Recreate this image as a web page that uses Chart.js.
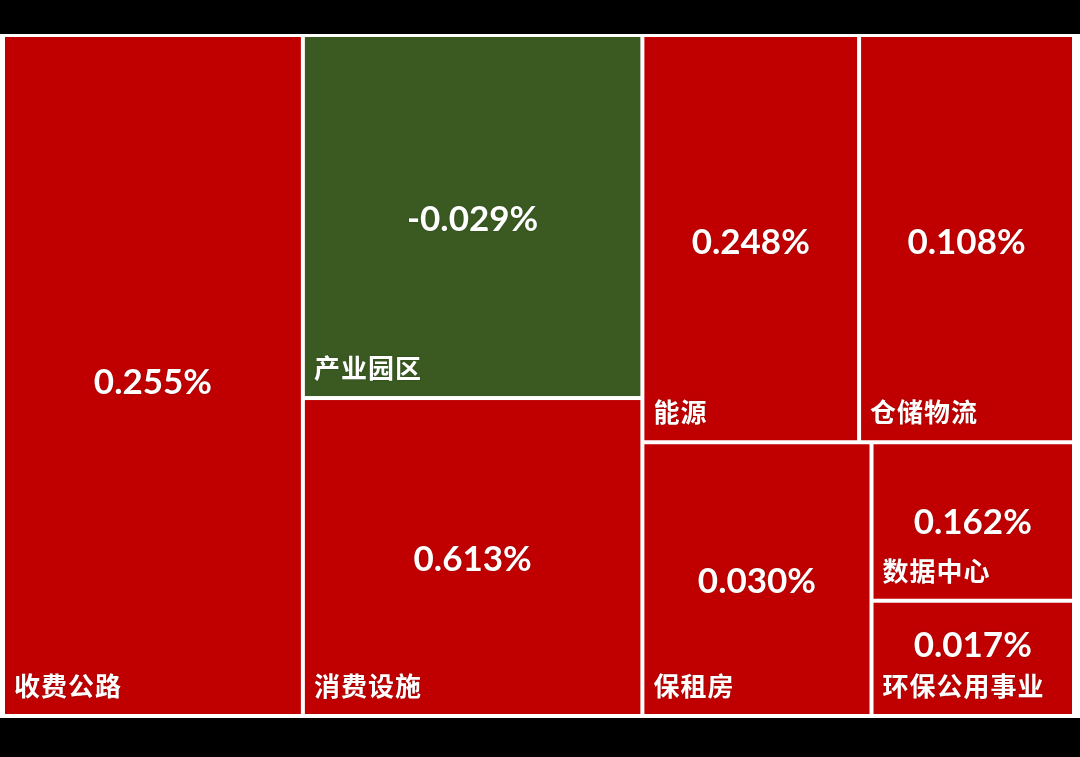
<!DOCTYPE html>
<html lang="zh-CN">
<head>
<meta charset="UTF-8">
<title>REITs 板块涨跌幅</title>
<style>
    html, body {
        margin: 0;
        padding: 0;
        background: #000;
    }
    #wrap {
        width: 1080px;
        height: 757px;
    }
</style>
</head>
<body>
<div id="wrap"><canvas id="treeChart" width="1080" height="757"></canvas></div>

<script src="https://cdn.jsdelivr.net/npm/chart.js"></script>
<script>
    // sector names, daily change (%) and size weight (share of total, %)
    const sectors = ['收费公路', '产业园区', '消费设施', '能源', '仓储物流', '保租房', '数据中心', '环保公用事业'];
    const changes = [0.255, -0.029, 0.613, 0.248, 0.108, 0.030, 0.162, 0.017];
    const weights = [28.0, 16.9, 14.8, 12.1, 12.0, 8.6, 4.4, 3.2];
    // sectors that share one strip, in layout order
    const strips = [[0], [1, 2], [3, 4], [5], [6], [7]];

    const UP = '#c00000';
    const DOWN = '#3a5a22';

    // strip layout: each strip goes along the shorter side of what is left
    function layoutStrips(x, y, w, h) {
        let remaining = weights.reduce((a, b) => a + b, 0);
        const cells = [];
        strips.forEach(group => {
            const sum = group.reduce((s, i) => s + weights[i], 0);
            const frac = sum / remaining;
            if (w >= h) {
                const sw = w * frac;
                let cy = y;
                group.forEach(i => {
                    const ch = h * weights[i] / sum;
                    cells.push({ i, x, y: cy, w: sw, h: ch });
                    cy += ch;
                });
                x += sw; w -= sw;
            } else {
                const sh = h * frac;
                let cx = x;
                group.forEach(i => {
                    const cw = w * weights[i] / sum;
                    cells.push({ i, x: cx, y, w: cw, h: sh });
                    cx += cw;
                });
                y += sh; h -= sh;
            }
            remaining -= sum;
        });
        return cells;
    }

    const treemapPlugin = {
        id: 'treemapStrips',
        beforeDraw(chart) {
            const ctx = chart.ctx;
            const area = chart.chartArea;
            ctx.save();
            ctx.fillStyle = '#000';
            ctx.fillRect(0, 0, chart.width, chart.height);
            ctx.fillStyle = '#fff';
            ctx.fillRect(0, area.top - 1, chart.width, area.bottom - area.top + 3);
            ctx.restore();
        },
        afterDatasetsDraw(chart) {
            const ctx = chart.ctx;
            const xs = chart.scales.x;
            const ys = chart.scales.y;
            const left = xs.getPixelForValue(0);
            const right = xs.getPixelForValue(1);
            const top = ys.getPixelForValue(1);
            const bottom = ys.getPixelForValue(0);
            const inset = 2;

            ctx.save();
            layoutStrips(left, top, right - left, bottom - top).forEach(c => {
                const x0 = c.x + inset, y0 = c.y + inset;
                const w = c.w - inset * 2, h = c.h - inset * 2;
                ctx.fillStyle = changes[c.i] < 0 ? DOWN : UP;
                ctx.fillRect(x0, y0, w, h);

                ctx.fillStyle = '#fff';
                ctx.shadowColor = 'rgba(0,0,0,0.25)';
                ctx.shadowBlur = 2;

                // value label
                const cy = Math.min(y0 + h * 0.51, y0 + h - 68);
                ctx.font = 'bold 35px Lato, "Open Sans", sans-serif';
                ctx.letterSpacing = '0px';
                ctx.textAlign = 'center';
                ctx.textBaseline = 'middle';
                ctx.fillText(changes[c.i].toFixed(3) + '%', x0 + w / 2, cy);

                // sector name
                ctx.font = 'bold 26px "Noto Sans CJK SC", sans-serif';
                ctx.letterSpacing = '1px';
                ctx.textAlign = 'left';
                ctx.fillText(sectors[c.i], x0 + 9, y0 + h - 28);
                ctx.shadowBlur = 0;
            });
            ctx.restore();
        }
    };

    new Chart(document.getElementById('treeChart'), {
        type: 'scatter',
        data: {
            datasets: [{ label: '涨跌幅', data: [] }]
        },
        options: {
            responsive: false,
            animation: false,
            layout: { padding: { top: 35, bottom: 41, left: 3, right: 6 } },
            scales: {
                x: { type: 'linear', min: 0, max: 1, display: false },
                y: { type: 'linear', min: 0, max: 1, display: false }
            },
            plugins: {
                legend: { display: false },
                tooltip: { enabled: false }
            }
        },
        plugins: [treemapPlugin]
    });
</script>
</body>
</html>
